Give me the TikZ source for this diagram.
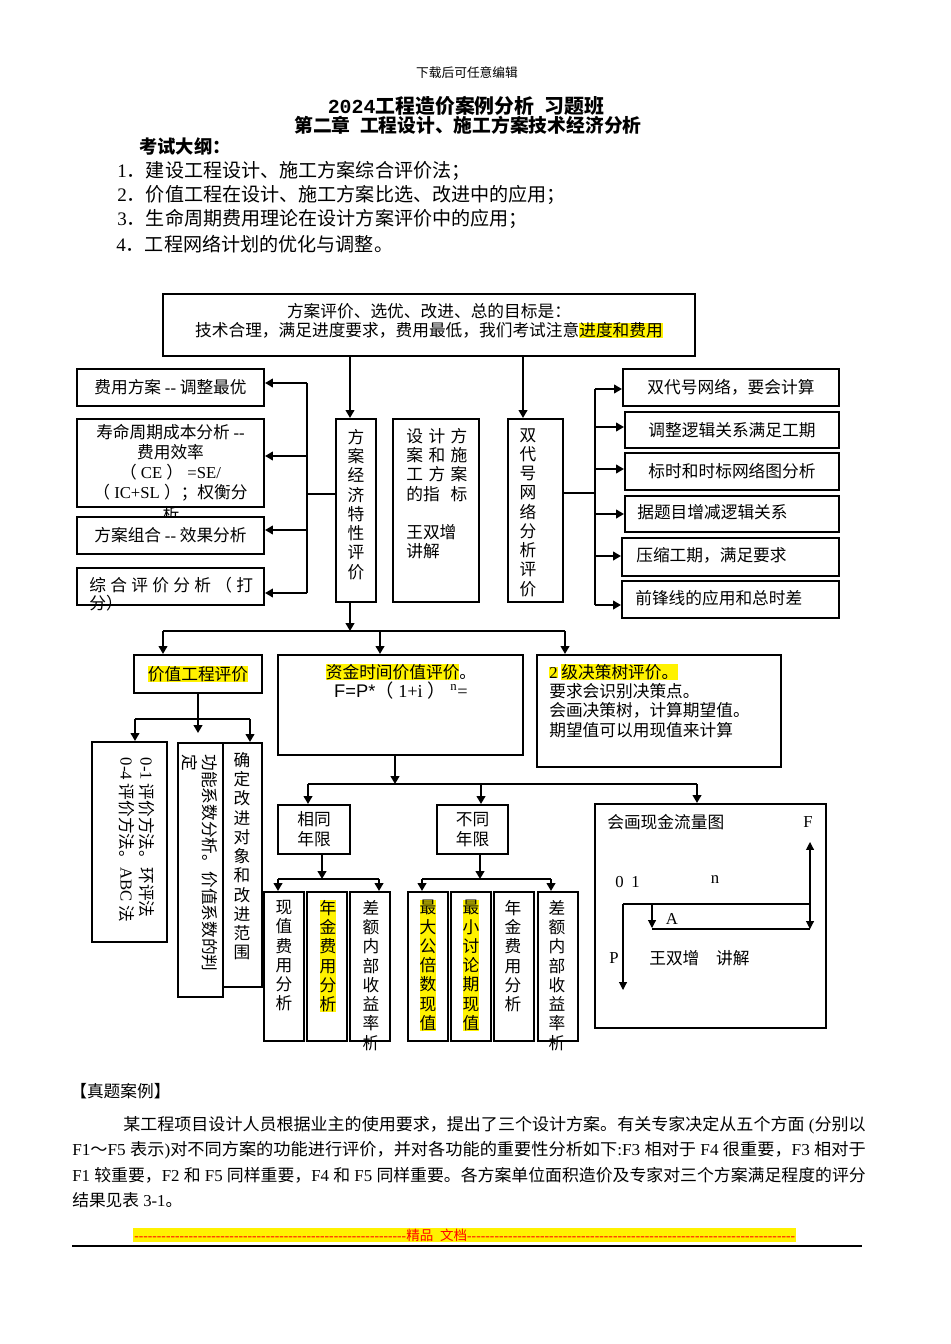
\documentclass[tikz,border=0pt]{standalone}
\usepackage{fontspec}
\usepackage{graphicx}
\setmainfont{Noto Sans CJK SC}
\newfontfamily\latfont{Liberation Serif}
\newfontfamily\arialfont{Liberation Sans}
\newfontfamily\codefont{Liberation Mono}
\usetikzlibrary{arrows.meta}
\newcommand\lat[1]{{\latfont #1}}
\newcommand\hl[1]{{\setlength{\fboxsep}{0pt}\colorbox{yellow}{#1}}}
\newcommand\fsbody{\fontsize{10.5pt}{12.6pt}\selectfont}
\newcommand\fsvert{\fontsize{10.5pt}{12.1pt}\selectfont}
\newcommand\fslist{\fontsize{12pt}{14pt}\selectfont}
\newcommand\fstitle{\fontsize{12.5pt}{15pt}\selectfont}
\newcommand\fssub{\fontsize{11.8pt}{14pt}\selectfont}
\newcommand\fsout{\fontsize{11.5pt}{13pt}\selectfont}
\newcommand\fshead{\fontsize{8pt}{9pt}\selectfont}
\newcommand\fsfoot{\fontsize{8.5pt}{10pt}\selectfont}
\begin{document}
\begin{tikzpicture}[x=0.0221cm, y=-0.0221cm,
  blk/.style={draw, line width=1.3pt, fill=white, inner sep=0pt, font=\fsbody},
  sz/.style 2 args={minimum width={#1*0.0221cm}, minimum height={#2*0.0221cm}},
  vcol/.style={font=\fsvert, align=center, inner sep=0pt, anchor=north},
  txt/.style={font=\fsbody, inner sep=0pt},
  conn/.style={line width=1.1pt},
  arr/.style={line width=1.1pt, -{Triangle[length=5pt,width=5.5pt]}},
  cfarr/.style={line width=0.7pt, -{Triangle[length=5pt,width=5pt]}}]

\fill[white] (0,0) rectangle (950,1344);
\useasboundingbox (0,0) rectangle (950,1344);

% heading
\node[font=\fshead] (dl) at (467,73) {下载后可任意编辑};
\node[font=\fstitle\bfseries] (ttl) at (466,106) {{\codefont 2024}工程造价案例分析\hspace{0.5em}习题班};
\node[font=\fssub\bfseries] (sub) at (468,125) {第二章\hspace{0.5em}工程设计、施工方案技术经济分析};
\node[txt, font=\fsout\bfseries, anchor=west] (outl) at (139,146) {考试大纲：};
\node[txt, font=\fslist, anchor=west] (o1) at (117,171) {\lat{1}．建设工程设计、施工方案综合评价法；};
\node[txt, font=\fslist, anchor=west] (o2) at (117,195) {\lat{2}．价值工程在设计、施工方案比选、改进中的应用；};
\node[txt, font=\fslist, anchor=west] (o3) at (117,219) {\lat{3}．生命周期费用理论在设计方案评价中的应用；};
\node[txt, font=\fslist, anchor=west] (o4) at (116,244) {\lat{4}．工程网络计划的优化与调整。};

% goal
\node[blk, sz={532}{62}] (goal) at (429,325) {};
\node[txt, font=\fsvert, align=center] (goalt) at (429,321)
  {方案评价、选优、改进、总的目标是：\\技术合理，满足进度要求，费用最低，我们考试注意\hl{进度和费用}};

% three columns
\node[blk, sz={40}{183}] (feas) at (356,510.5) {};
\node[vcol] (feast) at (356,429) {方\\案\\经\\济\\特\\性\\评\\价};
\node[blk, sz={86}{183}] (idx) at (436,510.5) {};
\node[txt, font=\fsvert, align=left, anchor=north west] (idxt) at (406,428)
  {\hbox to 1.35cm{设\hfill 计\hfill 方}\\\hbox to 1.35cm{案\hfill 和\hfill 施}\\
   \hbox to 1.35cm{工\hfill 方\hfill 案}\\\hbox to 1.35cm{的指\hfill 标}\\[12.1pt]王双增\\讲解};
\node[blk, sz={55}{183}] (net) at (535.5,510.5) {};
\node[vcol] (nett) at (528,428) {双\\代\\号\\网\\络\\分\\析\\评\\价};

% left boxes
\node[blk, sz={187}{37}] (costa) at (170.5,387.5) {费用方案 \lat{-{}-} 调整最优};
\node[blk, sz={187}{88}, align=center] (lcc) at (170.5,463)
  {寿命周期成本分析 \lat{-{}-}\\费用效率\\（\lat{ CE }）\lat{ =SE/}\\（\lat{ IC+SL }）；权衡分};
\node[txt] (lcct) at (171,514) {析};
\node[blk, sz={187}{37}] (combo) at (170.5,535.5) {方案组合 \lat{-{}-} 效果分析};
\node[blk, sz={187}{37}] (score) at (170.5,586.5) {};
\node[txt, anchor=west] (scoret) at (89,585) {\hbox to 3.62cm{综\hfill 合\hfill 评\hfill 价\hfill 分\hfill 析\hfill （\hfill 打}};
\node[txt, anchor=west] (scoret2) at (89,603) {分）};

% right boxes
\node[blk, sz={216}{37}] (r1) at (731,387.5) {双代号网络，要会计算};
\node[blk, sz={214}{36}] (r2) at (732,430) {调整逻辑关系满足工期};
\node[blk, sz={214}{37}] (r3) at (732,471.5) {标时和时标网络图分析};
\node[blk, sz={214}{36}] (r4) at (732,514) {};
\node[txt, anchor=west] (r4t) at (637,512) {据题目增减逻辑关系};
\node[blk, sz={217}{38}] (r5) at (730.5,557) {};
\node[txt, anchor=west] (r5t) at (636,555) {压缩工期，满足要求};
\node[blk, sz={217}{37}] (r6) at (730.5,599.5) {};
\node[txt, anchor=west] (r6t) at (635,598) {前锋线的应用和总时差};

% connectors, upper part
\coordinate (fx) at (350,0);
\coordinate (nx) at (523,0);
\draw[arr] (goal.south -| fx) -- (feas.north -| fx);
\draw[arr] (goal.south -| nx) -- (net.north -| nx);
\coordinate (lbt) at (307,383);
\coordinate (lbm) at (307,494);
\coordinate (lb2) at (307,456);
\coordinate (lb3) at (307,530);
\coordinate (lbb) at (307,593);
\draw[conn] (lbm -| feas.west) -- (lbm);
\draw[conn] (lbt) -- (lbb);
\draw[arr] (lbt) -- (lbt -| costa.east);
\draw[arr] (lb2) -- (lb2 -| lcc.east);
\draw[arr] (lb3) -- (lb3 -| combo.east);
\draw[arr] (lbb) -- (lbb -| score.east);
\coordinate (rbm) at (595,493);
\coordinate (rbt) at (595,389);
\coordinate (rbb) at (595,605);
\draw[conn] (rbm -| net.east) -- (rbm);
\draw[conn] (rbt) -- (rbb);
\foreach \n/\y in {r1/389, r2/427, r3/469, r4/514, r5/556, r6/605} {
  \coordinate (rb\n) at (595,\y);
  \draw[arr] (rb\n) -- (rb\n -| \n.west);
}

% second level
\node[blk, sz={128}{38}] (ve) at (198,674) {\hl{价值工程评价}};
\node[blk, sz={245}{100}] (tv) at (400.5,705) {};
\node[txt, font=\fsvert, align=center] (tvt) at (401,682)
  {\hl{资金时间价值评价}。\\{\fontsize{11.5pt}{12pt}\selectfont{\arialfont F=P*}（\lat{\ 1+i\ }）\lat{\ \textsuperscript{n}=}}};
\node[blk, sz={244}{112}] (dt) at (659,711) {};
\node[txt, font=\fsvert, align=left, anchor=north west] (dtt) at (549,664)
  {\hl{\lat{2}} \hl{级决策树评价。}\\要求会识别决策点。\\会画决策树，计算期望值。\\期望值可以用现值来计算};

\coordinate (mb) at (350,631);
\coordinate (mbl) at (163,631);
\coordinate (mbc) at (380,631);
\coordinate (mbr) at (565,631);
\draw[arr] (feas.south -| fx) -- (mb);
\draw[conn] (mbl) -- (mbr);
\draw[arr] (mbl) -- (mbl |- ve.north);
\draw[arr] (mbc) -- (mbc |- tv.north);
\draw[arr] (mbr) -- (mbr |- dt.north);

% value engineering branch
\node[blk, sz={75}{200}] (m1) at (129.5,842) {};
\node[txt, rotate=-90, align=left] (m1t) at (137,840)
  {\lat{0-1} 评价方法。环评法\\\lat{0-4} 评价方法。\lat{ABC} 法};
\node[blk, sz={45}{254}] (m2) at (200.5,870) {};
\node[txt, rotate=-90, align=left] (m2t) at (200,863) {功能系数分析。价值系数的判\\定};
\node[blk, sz={39}{244}] (m3) at (242.5,865) {};
\node[vcol] (m3t) at (242,752) {确\\定\\改\\进\\对\\象\\和\\改\\进\\范\\围};
\coordinate (vbl) at (135,719);
\coordinate (vbr) at (250,719);
\coordinate (vtip) at (198,733);
\draw[arr] (ve.south) -- (vtip);
\draw[conn] (vbl) -- (vbr);
\draw[arr] (vbl) -- (vbl |- m1.north);
\draw[arr] (vbr) -- (vbr |- m3.north);

% time value branch
\node[blk, sz={72}{49}, align=center] (same) at (314,829.5) {相同\\年限};
\node[blk, sz={71}{49}, align=center] (diff) at (472.5,829.5) {不同\\年限};
\node[blk, sz={231}{224}] (cash) at (710.5,916) {};
\coordinate (tb) at (395,784);
\coordinate (tbl) at (308,784);
\coordinate (tbm) at (481,784);
\coordinate (tbr) at (697,784);
\draw[arr] (tv.south -| tb) -- (tb);
\draw[conn] (tbl) -- (tbr);
\draw[arr] (tbl) -- (tbl |- same.north);
\draw[arr] (tbm) -- (tbm |- diff.north);
\draw[arr] (tbr) -- (tbr |- cash.north);

% same period
\node[blk, sz={40}{149}] (s1) at (284,966.5) {};
\node[vcol] (s1t) at (284,900) {现\\值\\费\\用\\分\\析};
\node[blk, sz={40}{149}] (s2) at (327,966.5) {};
\node[vcol, fill=yellow] (s2t) at (328,900) {年\\金\\费\\用\\分\\析};
\node[blk, sz={40}{149}] (s3) at (370,966.5) {};
\node[vcol] (s3t) at (371,900) {差\\额\\内\\部\\收\\益\\率\\析};
\coordinate (sb) at (322,879);
\coordinate (sbl) at (278,879);
\coordinate (sbr) at (379,879);
\draw[arr] (same.south -| sb) -- (sb);
\draw[conn] (sbl) -- (sbr);
\draw[arr] (sbl) -- (sbl |- s1.north);
\draw[arr] (sbr) -- (sbr |- s3.north);

% different period
\node[blk, sz={40}{149}] (d1) at (428,966.5) {};
\node[vcol, fill=yellow] (d1t) at (428,900) {最\\大\\公\\倍\\数\\现\\值};
\node[blk, sz={40}{149}] (d2) at (471,966.5) {};
\node[vcol, fill=yellow] (d2t) at (471,900) {最\\小\\讨\\论\\期\\现\\值};
\node[blk, sz={40}{149}] (d3) at (514,966.5) {};
\node[vcol] (d3t) at (513,900) {年\\金\\费\\用\\分\\析};
\node[blk, sz={40}{149}] (d4) at (558,966.5) {};
\node[vcol] (d4t) at (557,900) {差\\额\\内\\部\\收\\益\\率\\析};
\coordinate (db) at (480,879);
\coordinate (dbl) at (422,879);
\coordinate (dbr) at (551,879);
\draw[arr] (diff.south -| db) -- (db);
\draw[conn] (dbl) -- (dbr);
\draw[arr] (dbl) -- (dbl |- d1.north);
\draw[arr] (dbr) -- (dbr |- d4.north);

% cash flow sketch
\node[txt, anchor=west] (cft) at (607,822) {会画现金流量图};
\node[txt] (cff) at (808,822) {\lat{F}};
\node[txt] (cf0) at (619.5,882) {\lat{0}};
\node[txt] (cf1) at (635.5,882) {\lat{1}};
\node[txt] (cfn) at (715,880) {\lat{n}};
\node[txt] (cfa) at (672,919) {\lat{A}};
\node[txt] (cfp) at (614,958) {\lat{P}};
\node[txt, anchor=west] (cfw) at (649,958) {王双增\hspace{1em}讲解};
\draw[line width=0.7pt] (623,904) -- (810,904);
\draw[cfarr] (623,904) -- (623,990);
\draw[cfarr] (652,904) -- (652,928);
\draw[line width=0.7pt] (652,929) -- (810,929);
\draw[cfarr] (810,904) -- (810,842);
\draw[cfarr] (810,904) -- (810,929);

% case text
\node[txt, anchor=west] (case) at (70,1091) {【真题案例】};
\node[txt, anchor=west] (p1) at (123,1125)
  {\resizebox{16.40cm}{\height}{某工程项目设计人员根据业主的使用要求，提出了三个设计方案。有关专家决定从五个方面\lat{ (}分别以}};
\node[txt, anchor=west] (p2) at (72,1150)
  {\resizebox{17.53cm}{\height}{\lat{F1}～\lat{F5 }表示\lat{)}对不同方案的功能进行评价，并对各功能的重要性分析如下\lat{:F3 }相对于\lat{ F4 }很重要，\lat{F3 }相对于}};
\node[txt, anchor=west] (p3) at (72,1175)
  {\resizebox{17.53cm}{\height}{\lat{F1 }较重要，\lat{F2 }和\lat{ F5 }同样重要，\lat{F4 }和\lat{ F5 }同样重要。各方案单位面积造价及专家对三个方案满足程度的评分}};
\node[txt, anchor=west] (p4) at (72,1200) {结果见表\lat{ 3-1}。};

% footer
\node[font=\fsfoot, fill=yellow, text=red, inner sep=0.6pt, anchor=west] (foot) at (133,1235)
  {\hbox to 6.01cm{\latfont\xleaders\hbox{-}\hfill}精品\hspace{0.5em}文档\hbox to 7.25cm{\latfont\xleaders\hbox{-}\hfill}};
\draw[line width=1.4pt] (72,1246) -- (862,1246);
\end{tikzpicture}
\end{document}
